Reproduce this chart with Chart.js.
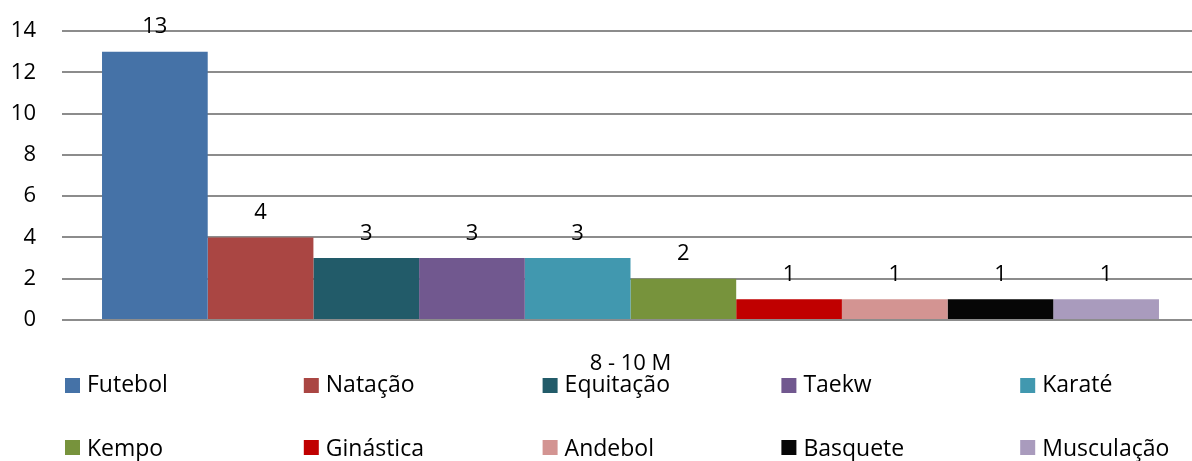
<!DOCTYPE html>
<html>
<head>
<meta charset="utf-8">
<script src="https://cdn.jsdelivr.net/npm/chart.js@4"></script>
<style>
html,body{margin:0;padding:0;background:#fff;overflow:hidden;}
#wrap{width:1192px;height:461px;position:relative;overflow:hidden;}
</style>
</head>
<body>
<div id="wrap"><canvas id="c" width="1199" height="461"></canvas></div>
<script>
const categories = ['8 - 10 M'];
const seriesNames = ['Futebol','Natação','Equitação','Taekw','Karaté','Kempo','Ginástica','Andebol','Basquete','Musculação'];
const seriesValues = [13, 4, 3, 3, 3, 2, 1, 1, 1, 1];
const seriesColors = ['#4572A7','#AA4643','#225B69','#71588F','#4198AF','#77933C','#C00000','#D39492','#060606','#A99BBD'];
const yTicks = [0, 2, 4, 6, 8, 10, 12, 14];

const FONT = "'Open Sans', 'Liberation Sans', sans-serif";
const FS = 22;
const LEGEND_FS = 23;

const datasets = seriesNames.map((n, i) => ({
  label: n,
  data: [seriesValues[i]],
  backgroundColor: seriesColors[i],
  borderWidth: 0,
  barPercentage: 1,
  categoryPercentage: 0.9296
}));

const valueLabels = {
  id: 'valueLabels',
  afterDatasetsDraw(chart) {
    const ctx = chart.ctx;
    ctx.save();
    ctx.font = FS + 'px ' + FONT;
    ctx.fillStyle = '#000';
    ctx.textAlign = 'center';
    ctx.textBaseline = 'alphabetic';
    chart.data.datasets.forEach((ds, i) => {
      const meta = chart.getDatasetMeta(i);
      meta.data.forEach((el, j) => {
        ctx.fillText(String(ds.data[j]), el.x, el.y - 18.5);
      });
    });
    ctx.restore();
  }
};

const gridLegend = {
  id: 'gridLegend',
  afterDraw(chart) {
    const ctx = chart.ctx;
    ctx.save();
    ctx.font = LEGEND_FS + 'px ' + FONT;
    ctx.textBaseline = 'alphabetic';
    ctx.textAlign = 'left';
    const cols = 5, x0 = 65, dx = 238.8, rows = [392, 456], boxTop = [378, 440], box = 15;
    chart.data.datasets.forEach((ds, i) => {
      const x = x0 + (i % cols) * dx;
      const r = Math.floor(i / cols);
      ctx.fillStyle = ds.backgroundColor;
      ctx.fillRect(x, boxTop[r], box, box);
      ctx.fillStyle = '#000';
      ctx.fillText(ds.label, x + 22, rows[r]);
    });
    ctx.restore();
  }
};

new Chart(document.getElementById('c'), {
  type: 'bar',
  data: { labels: categories, datasets },
  options: {
    responsive: false,
    animation: false,
    devicePixelRatio: 1,
    layout: { padding: { top: 31, right: 0, bottom: 89, left: 0 } },
    plugins: { legend: { display: false }, tooltip: { enabled: false } },
    scales: {
      x: {
        afterFit(scale) { scale.height = 52; scale.paddingLeft = 0; scale.paddingRight = 0; },
        grid: { display: false, drawTicks: false },
        border: { display: false },
        ticks: { color: '#000', font: { size: FS, family: FONT }, padding: 31 }
      },
      y: {
        min: 0, max: 14,
        afterBuildTicks(scale) { scale.ticks = yTicks.map(v => ({ value: v })); },
        afterFit(scale) { scale.width = 62; scale.paddingTop = 0; scale.paddingBottom = 0; },
        grid: { color: '#8c8c8c', lineWidth: 2, drawTicks: false },
        border: { display: false },
        ticks: { color: '#000', font: { size: FS, family: FONT }, padding: 26 }
      }
    }
  },
  plugins: [valueLabels, gridLegend]
});
</script>
</body>
</html>
